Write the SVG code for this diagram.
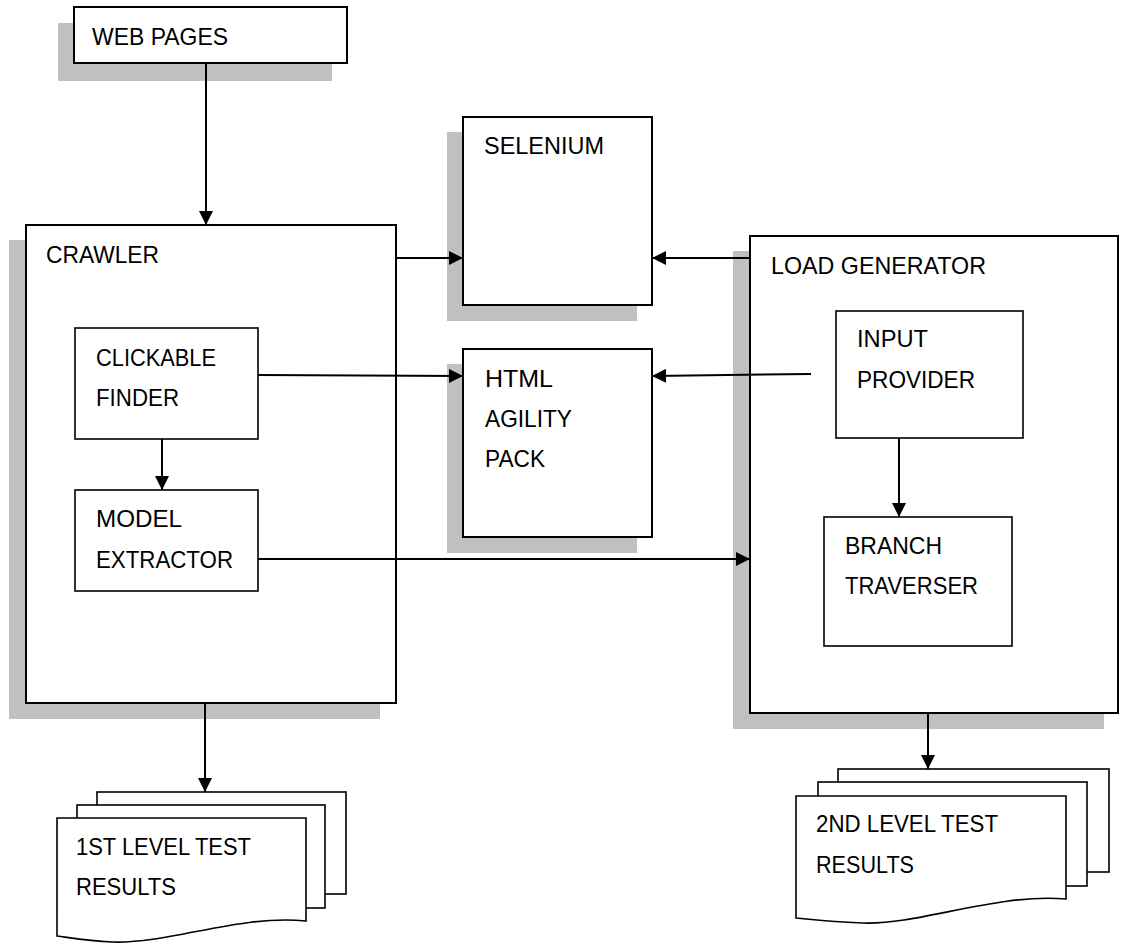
<svg xmlns="http://www.w3.org/2000/svg" width="1122" height="944" viewBox="0 0 1122 944">
<style>
.shadow{fill:#c0c0c0;stroke:none}
.box{fill:#fff;stroke:#000;stroke-width:2}
.ibox{fill:#fff;stroke:#000;stroke-width:1.6}
.doc{fill:#fff;stroke:#000;stroke-width:1.6}
.lbl{font-family:"Liberation Sans",Arial,sans-serif;font-size:24px;fill:#000}
.conn{fill:none;stroke:#000;stroke-width:2}
</style>
<defs>
<marker id="arr" viewBox="0 0 10 10" refX="10" refY="5" markerUnits="userSpaceOnUse" markerWidth="14" markerHeight="14" orient="auto">
<path d="M0,0 L10,5 L0,10 z" fill="#000"/>
</marker>
</defs>
<rect width="1122" height="944" fill="#fff"/>

<g id="web-pages">
<rect class="shadow" x="58" y="23" width="274" height="58"/>
<rect class="box" x="74" y="7" width="273" height="56"/>
<text class="lbl" x="92" y="45" textLength="136" lengthAdjust="spacingAndGlyphs">WEB PAGES</text>
</g>

<g id="crawler">
<rect class="shadow" x="9" y="240" width="371" height="479"/>
<rect class="box" x="26" y="225" width="370" height="478"/>
<text class="lbl" x="46" y="263" textLength="113" lengthAdjust="spacingAndGlyphs">CRAWLER</text>
</g>

<g id="clickable-finder">
<rect class="ibox" x="75" y="328" width="183" height="111"/>
<text class="lbl" x="96" y="366" textLength="120" lengthAdjust="spacingAndGlyphs">CLICKABLE</text>
<text class="lbl" x="96" y="406" textLength="83" lengthAdjust="spacingAndGlyphs">FINDER</text>
</g>

<g id="model-extractor">
<rect class="ibox" x="75" y="490" width="183" height="101"/>
<text class="lbl" x="96" y="527" textLength="86" lengthAdjust="spacingAndGlyphs">MODEL</text>
<text class="lbl" x="96" y="568" textLength="137" lengthAdjust="spacingAndGlyphs">EXTRACTOR</text>
</g>

<g id="selenium">
<rect class="shadow" x="447" y="132" width="190" height="189"/>
<rect class="box" x="463" y="117" width="189" height="188"/>
<text class="lbl" x="484" y="154" textLength="120" lengthAdjust="spacingAndGlyphs">SELENIUM</text>
</g>

<g id="html-agility-pack">
<rect class="shadow" x="447" y="364" width="190" height="189"/>
<rect class="box" x="463" y="349" width="189" height="188"/>
<text class="lbl" x="485" y="387" textLength="68" lengthAdjust="spacingAndGlyphs">HTML</text>
<text class="lbl" x="485" y="427" textLength="87" lengthAdjust="spacingAndGlyphs">AGILITY</text>
<text class="lbl" x="485" y="467" textLength="60" lengthAdjust="spacingAndGlyphs">PACK</text>
</g>

<g id="load-generator">
<rect class="shadow" x="733" y="251" width="371" height="478"/>
<rect class="box" x="750" y="236" width="368" height="477"/>
<text class="lbl" x="771" y="274" textLength="215" lengthAdjust="spacingAndGlyphs">LOAD GENERATOR</text>
</g>

<g id="input-provider">
<rect class="ibox" x="836" y="311" width="187" height="127"/>
<text class="lbl" x="857" y="347" textLength="71" lengthAdjust="spacingAndGlyphs">INPUT</text>
<text class="lbl" x="857" y="388" textLength="118" lengthAdjust="spacingAndGlyphs">PROVIDER</text>
</g>

<g id="branch-traverser">
<rect class="ibox" x="824" y="517" width="188" height="129"/>
<text class="lbl" x="845" y="554" textLength="97" lengthAdjust="spacingAndGlyphs">BRANCH</text>
<text class="lbl" x="845" y="594" textLength="133" lengthAdjust="spacingAndGlyphs">TRAVERSER</text>
</g>

<g id="first-level-results">
<rect class="doc" x="97" y="792" width="249" height="102"/>
<rect class="doc" x="77" y="805" width="248" height="103"/>
<path class="doc" d="M57,818 H306 V921 C240,914 170,944 112,942 C88,941 72,938 57,936 Z"/>
<text class="lbl" x="76" y="855" textLength="175" lengthAdjust="spacingAndGlyphs">1ST LEVEL TEST</text>
<text class="lbl" x="76" y="895" textLength="100" lengthAdjust="spacingAndGlyphs">RESULTS</text>
</g>

<g id="second-level-results">
<rect class="doc" x="838" y="769" width="271" height="103"/>
<rect class="doc" x="818" y="782" width="269" height="104"/>
<path class="doc" d="M796,796 H1066 V899 C995,893 920,925 863,923 C836,922 815,920 796,918 Z"/>
<text class="lbl" x="816" y="832" textLength="182" lengthAdjust="spacingAndGlyphs">2ND LEVEL TEST</text>
<text class="lbl" x="816" y="873" textLength="98" lengthAdjust="spacingAndGlyphs">RESULTS</text>
</g>

<g id="connectors">
<path class="conn" d="M206,63 V225" marker-end="url(#arr)"/>
<path class="conn" d="M396,258 H463" marker-end="url(#arr)"/>
<path class="conn" d="M750,258 H652" marker-end="url(#arr)"/>
<path class="conn" d="M258,375 L463,376" marker-end="url(#arr)"/>
<path class="conn" d="M811,374 L652,376" marker-end="url(#arr)"/>
<path class="conn" d="M162,439 V490" marker-end="url(#arr)"/>
<path class="conn" d="M258,559 H750" marker-end="url(#arr)"/>
<path class="conn" d="M899,438 V517" marker-end="url(#arr)"/>
<path class="conn" d="M205,703 V792" marker-end="url(#arr)"/>
<path class="conn" d="M928,713 V769" marker-end="url(#arr)"/>
</g>
</svg>
